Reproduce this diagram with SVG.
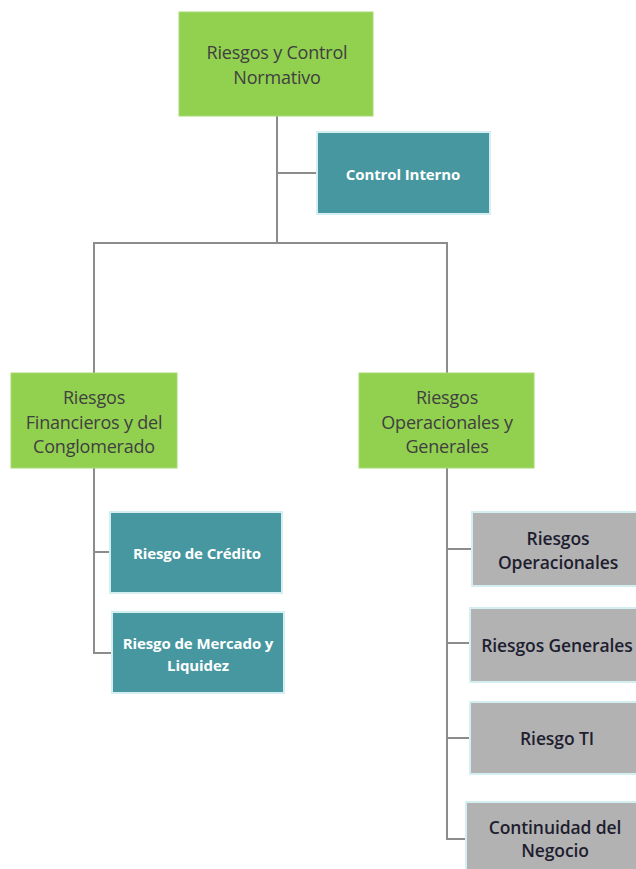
<svg xmlns="http://www.w3.org/2000/svg" width="636" height="869" viewBox="0 0 636 869">
<style>
.g{fill:#92D050;stroke:#A6DA6E;stroke-width:1}
.t{fill:#46979F;stroke:#D5EEF2;stroke-width:2}
.s{fill:#B2B2B2;stroke:#D5EEF2;stroke-width:2}
.gt{font-family:"Open Sans","Liberation Sans",sans-serif;font-size:18px;fill:#404040;text-anchor:middle;dominant-baseline:central;letter-spacing:-0.2px}
.tt{font-family:"Open Sans","Liberation Sans",sans-serif;font-size:15px;font-weight:bold;fill:#FFFFFF;text-anchor:middle;dominant-baseline:central;letter-spacing:-0.1px}
.st{font-family:"Open Sans","Liberation Sans",sans-serif;font-size:17.5px;font-weight:600;fill:#1E1E30;text-anchor:middle;dominant-baseline:central;letter-spacing:-0.1px}
.c{fill:none;stroke:#8C8C8C;stroke-width:2}
</style>
<rect width="636" height="869" fill="#FFFFFF"/>
<g id="connectors">
<path class="c" d="M277,116 V243 M277,173 H318 M94,373 V243 H447 V373"/>
<path class="c" d="M94,468 V653 H112 M94,552 H110"/>
<path class="c" d="M447,468 V839 H466 M447,549 H472 M447,643 H470 M447,738 H470"/>
</g>
<g id="n_root"><rect class="g" x="179" y="12" width="194" height="104"/><text class="gt" x="277" y="52">Riesgos y Control</text><text class="gt" x="277" y="77">Normativo</text></g>
<g id="n_control"><rect class="t" x="317" y="132" width="173" height="82"/><text class="tt" x="403" y="174">Control Interno</text></g>
<g id="n_fin"><rect class="g" x="11" y="373" width="166" height="95"/><text class="gt" x="94" y="397">Riesgos</text><text class="gt" x="94" y="422">Financieros y del</text><text class="gt" x="94" y="446">Conglomerado</text></g>
<g id="n_oper"><rect class="g" x="359" y="373" width="175" height="95"/><text class="gt" x="447" y="397">Riesgos</text><text class="gt" x="447" y="422">Operacionales y</text><text class="gt" x="447" y="446">Generales</text></g>
<g id="n_credito"><rect class="t" x="110" y="512" width="172" height="81"/><text class="tt" x="197" y="553">Riesgo de Crédito</text></g>
<g id="n_mercado"><rect class="t" x="112" y="612" width="172" height="81"/><text class="tt" x="198" y="643">Riesgo de Mercado y</text><text class="tt" x="198" y="665">Liquidez</text></g>
<g id="n_ro"><rect class="s" x="472" y="512" width="172" height="74"/><text class="st" x="558" y="538">Riesgos</text><text class="st" x="558" y="562">Operacionales</text></g>
<g id="n_rg"><rect class="s" x="470" y="608" width="174" height="74"/><text class="st" x="557" y="645">Riesgos Generales</text></g>
<g id="n_ti"><rect class="s" x="470" y="702" width="174" height="72"/><text class="st" x="557" y="738">Riesgo TI</text></g>
<g id="n_cn"><rect class="s" x="466" y="802" width="178" height="75"/><text class="st" x="555" y="827">Continuidad del</text><text class="st" x="555" y="850">Negocio</text></g>
</svg>
